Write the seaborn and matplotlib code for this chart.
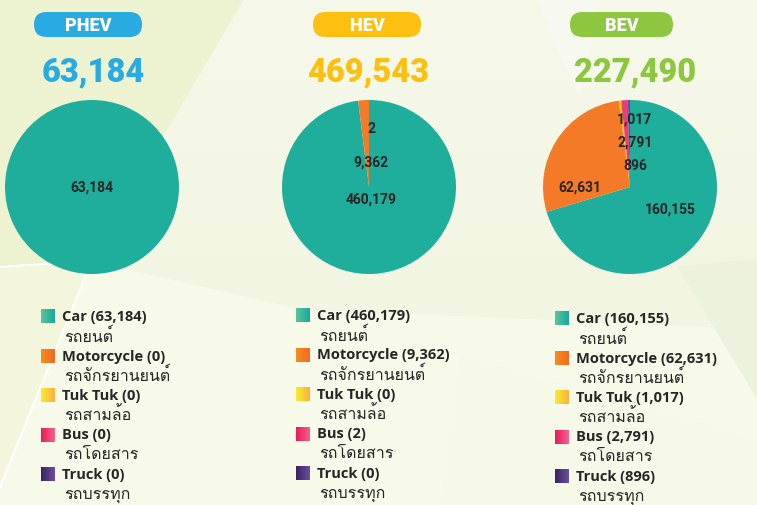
import numpy as np
import seaborn as sns
import matplotlib.pyplot as plt
from matplotlib import font_manager
from matplotlib.ft2font import FT2Font
from matplotlib.colors import LinearSegmentedColormap
from matplotlib.patches import FancyBboxPatch, Polygon

# data
groups = ['PHEV', 'HEV', 'BEV']
group_totals = [63184, 469543, 227490]
vehicle_types = ['Car', 'Motorcycle', 'Tuk Tuk', 'Bus', 'Truck']
vehicle_types_th = ['รถยนต์', 'รถจักรยานยนต์', 'รถสามล้อ', 'รถโดยสาร', 'รถบรรทุก']
phev_counts = [63184, 0, 0, 0, 0]
hev_counts = [460179, 9362, 0, 2, 0]
bev_counts = [160155, 62631, 1017, 2791, 896]
all_counts = [phev_counts, hev_counts, bev_counts]

# colours
group_colors = ['#29abe2', '#fdc010', '#8dc63f']
pie_colors = sns.color_palette(['#1fae9b', '#f47a28', '#fcc30b', '#ec3a7d', '#6a4c9c'])
swatch_colors = [('#5cc49c', '#17a99c'), ('#f68d1f', '#f26a22'), ('#f9ec2e', '#fbb040'),
                 ('#ec1a5b', '#f2628a'), ('#3a2363', '#6c4f9c')]

# layout (pixels, from top-left)
W, H = 757, 506
pill_boxes = [(34, 13, 108, 25), (313, 13, 108, 25), (570, 13, 103, 25)]
total_x = [93, 368, 635]
pie_centers = [(92, 188), (369, 188), (630, 188)]
pie_r = 87
label_offsets = [
    [(0, 0)],
    [(2, 12), (2, -25), None, (2, -59), None],
    [(40, 22), (-50, 0), (4, -68), (5, -45), (5, -22)],
]
legend_x = [41, 296, 555]
legend_top = [317, 316, 319]
row_step = 39.5

sns.set_theme(style='white')
plt.rcParams['font.family'] = ['Roboto', 'DejaVu Sans']

# first installed font that has Thai glyphs
thai_font = None
for f in font_manager.fontManager.ttflist:
    try:
        if 0x0E23 in FT2Font(f.fname).get_charmap():
            thai_font = f.name
            break
    except Exception:
        continue
thai_family = [thai_font, 'DejaVu Sans'] if thai_font else ['DejaVu Sans']

fig = plt.figure(figsize=(W / 100, H / 100), dpi=100)
ax = fig.add_axes([0, 0, 1, 1])


def Y(py):
    return H - py


# background
grad = np.linspace(0, 1, 100).reshape(-1, 1)
bg_cmap = LinearSegmentedColormap.from_list('bg', ['#f0f4dc', '#f6f8ea'])
ax.imshow(grad, extent=[0, W, 0, H], cmap=bg_cmap, aspect='auto', origin='lower', zorder=0)
shapes = [
    ([(0, 0), (244, 0), (90, 262), (0, 268)], '#edf3d0'),
    ([(0, 268), (90, 262), (0, 488)], '#f3f5dc'),
    ([(90, 262), (300, 310), (757, 330), (757, 506), (0, 506), (0, 488)], '#f7f9e9'),
    ([(460, 357), (757, 440), (757, 506), (440, 506)], '#f7f9e8'),
    ([(677, 267), (757, 260), (757, 400)], '#edf2de'),
    ([(535, 0), (600, 0), (580, 100)], '#f7f9f0'),
]
for pts, col in shapes:
    ax.add_patch(Polygon([(x, Y(y)) for x, y in pts], closed=True, facecolor=col,
                         edgecolor='none', zorder=1))
ax.plot([0, 90], [Y(268), Y(262)], color='white', lw=1.5, zorder=1.5)
ax.plot([86, 0], [Y(276), Y(488)], color='white', lw=1.5, zorder=1.5)

for i, name in enumerate(groups):
    x0, y0, w, h = pill_boxes[i]
    ax.add_patch(FancyBboxPatch((x0, Y(y0 + h)), w, h,
                                boxstyle='round,pad=0,rounding_size=12.5',
                                facecolor=group_colors[i], edgecolor='none', zorder=3))
    ax.text(x0 + w / 2, Y(y0 + h / 2), name, color='white', fontsize=13,
            fontweight='heavy', ha='center', va='center', zorder=4)
    ax.text(total_x[i], Y(72), f'{group_totals[i]:,}', color=group_colors[i], fontsize=23.5,
            fontweight='heavy', ha='center', va='center', zorder=4)

    cx, cy = pie_centers[i]
    counts = all_counts[i]
    ax.pie(counts, colors=pie_colors, startangle=90, counterclock=False,
           center=(cx, Y(cy)), radius=pie_r, frame=True,
           wedgeprops=dict(linewidth=0, zorder=3))
    for j, v in enumerate(counts):
        if v == 0 or label_offsets[i][j] is None:
            continue
        dx, dy = label_offsets[i][j]
        ax.text(cx + dx, Y(cy + dy), f'{v:,}', color='#262626', fontsize=10,
                fontweight='bold', ha='center', va='center', zorder=5)

    # legend
    lx = legend_x[i]
    for j, vt in enumerate(vehicle_types):
        ty = legend_top[i] + j * row_step
        c0, c1 = swatch_colors[j]
        sw_cmap = LinearSegmentedColormap.from_list(vt, [c0, c1])
        ax.imshow(np.linspace(0, 1, 32).reshape(1, -1), cmap=sw_cmap, aspect='auto',
                  extent=[lx, lx + 14, Y(ty + 7), Y(ty - 7)], zorder=4)
        ax.text(lx + 21, Y(ty), f'{vt} ({counts[j]:,})', color='#262626', fontsize=10.5,
                family=['Open Sans', 'DejaVu Sans'], fontweight='bold',
                ha='left', va='center', zorder=5)
        ax.text(lx + 23, Y(ty + 20), vehicle_types_th[j], color='#262626', fontsize=11.5,
                family=thai_family, ha='left', va='center', zorder=5)

ax.set_xlim(0, W)
ax.set_ylim(0, H)
ax.set_aspect('auto')
ax.axis('off')

fig.savefig('out.png', dpi=100)
